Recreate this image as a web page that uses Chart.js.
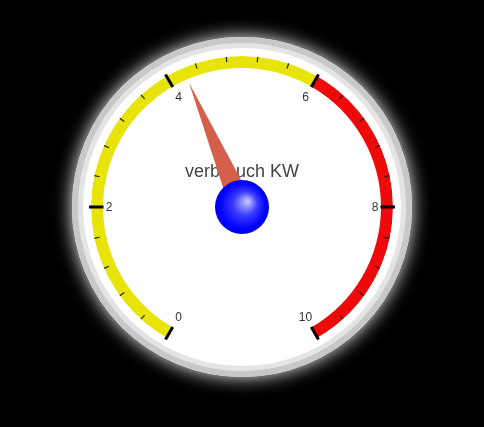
<!DOCTYPE html>
<html>
<head>
<meta charset="utf-8">
<script src="https://cdn.jsdelivr.net/npm/chart.js@4.4.1/dist/chart.umd.min.js"></script>
<style>
  html, body { margin: 0; padding: 0; background: #000; }
  #wrap { position: relative; width: 484px; height: 427px; }
</style>
</head>
<body>
<div id="wrap"><canvas id="c"></canvas></div>
<script>
// ---- data ----
const bandLabels = ['0 - 6', '6 - 10'];
const bandValues = [6, 4];
const scaleMin = 0;
const tickLabels = [0, 2, 4, 6, 8, 10];
const minorTickStep = 0.4;
const gaugeValue = 4.23;
const gaugeTitle = 'verbrauch KW';

// ---- styles ----
const bandColors = ['#e8e40a', '#ee0a0a'];
const FONT = '"Liberation Sans", Arial, sans-serif';

const gaugePlugin = {
  id: 'gauge',
  beforeDatasetsDraw(chart) {
    const arc = chart.getDatasetMeta(0).data[0];
    const ctx = chart.ctx;
    ctx.save();
    ctx.beginPath();
    ctx.arc(arc.x, arc.y, arc.outerRadius, 0, Math.PI * 2);
    ctx.shadowColor = 'rgba(255,255,255,0.95)';
    ctx.shadowBlur = 18;
    ctx.fillStyle = '#ffffff';
    ctx.fill();
    ctx.restore();
  },
  afterDatasetsDraw(chart) {
    const ctx = chart.ctx;
    const meta = chart.getDatasetMeta(3);
    const arcs = meta.data;
    const cx = arcs[0].x, cy = arcs[0].y;
    const rIn = arcs[0].innerRadius, rOut = arcs[0].outerRadius;
    const a0 = arcs[0].startAngle, a1 = arcs[arcs.length - 1].endAngle;
    const scaleMax = scaleMin + bandValues.reduce((s, v) => s + v, 0);
    const ang = v => a0 + (a1 - a0) * (v - scaleMin) / (scaleMax - scaleMin);

    ctx.save();
    // minor ticks
    ctx.strokeStyle = '#222';
    ctx.lineWidth = 1.2;
    const nMinor = Math.round((scaleMax - scaleMin) / minorTickStep);
    for (let i = 0; i <= nMinor; i++) {
      const a = ang(scaleMin + i * minorTickStep);
      ctx.beginPath();
      ctx.moveTo(cx + Math.cos(a) * (rOut - 5.5), cy + Math.sin(a) * (rOut - 5.5));
      ctx.lineTo(cx + Math.cos(a) * rOut, cy + Math.sin(a) * rOut);
      ctx.stroke();
    }
    // major ticks
    ctx.strokeStyle = '#000';
    ctx.lineWidth = 3;
    tickLabels.forEach(v => {
      const a = ang(v);
      ctx.beginPath();
      ctx.moveTo(cx + Math.cos(a) * (rIn - 0.5), cy + Math.sin(a) * (rIn - 0.5));
      ctx.lineTo(cx + Math.cos(a) * (rOut + 2), cy + Math.sin(a) * (rOut + 2));
      ctx.stroke();
    });
    // labels
    ctx.fillStyle = '#333';
    ctx.font = '12px ' + FONT;
    ctx.textAlign = 'center';
    ctx.textBaseline = 'middle';
    tickLabels.forEach(v => {
      const a = ang(v);
      const c = Math.cos(a);
      const r = rIn - 6 - 8 * (1 - c * c);
      ctx.fillText(String(v), cx + c * r, cy + Math.sin(a) * r + 1);
    });
    // title
    ctx.fillStyle = '#444';
    ctx.font = '18px ' + FONT;
    ctx.fillText(gaugeTitle, cx, cy - 35);

    // needle
    const na = ang(gaugeValue);
    const tipR = rIn - 4;
    const hw = 12;
    const px = -Math.sin(na), py = Math.cos(na);
    ctx.beginPath();
    ctx.moveTo(cx + Math.cos(na) * tipR, cy + Math.sin(na) * tipR);
    ctx.lineTo(cx + px * hw, cy + py * hw);
    ctx.lineTo(cx - px * hw, cy - py * hw);
    ctx.closePath();
    ctx.fillStyle = '#d65f4c';
    ctx.fill();

    // pivot
    const pr = 27;
    const g = ctx.createRadialGradient(cx + 6, cy - 6, 0, cx, cy, pr);
    g.addColorStop(0, '#c9ccff');
    g.addColorStop(0.45, '#3a3aff');
    g.addColorStop(0.85, '#0000ff');
    g.addColorStop(1, '#0000e8');
    ctx.beginPath();
    ctx.arc(cx, cy, pr, 0, Math.PI * 2);
    ctx.fillStyle = g;
    ctx.fill();
    ctx.restore();
  }
};

new Chart(document.getElementById('c'), {
  type: 'doughnut',
  data: {
    labels: bandLabels,
    datasets: [
      { data: [1], backgroundColor: ['#c8c8c8'], weight: 6 },
      { data: [1], backgroundColor: ['#e4e4e4'], weight: 5 },
      { data: [1], backgroundColor: ['#ffffff'], weight: 8 },
      { data: bandValues, backgroundColor: bandColors, weight: 12, rotation: -150, circumference: 300 }
    ]
  },
  options: {
    responsive: true,
    maintainAspectRatio: false,
    animation: false,
    cutout: '81.76%',
    borderWidth: 0,
    hoverOffset: 0,
    layout: { padding: { left: 72, right: 72, top: 37, bottom: 50 } },
    plugins: { legend: { display: false }, tooltip: { enabled: false } },
    events: []
  },
  plugins: [gaugePlugin]
});
</script>
</body>
</html>
